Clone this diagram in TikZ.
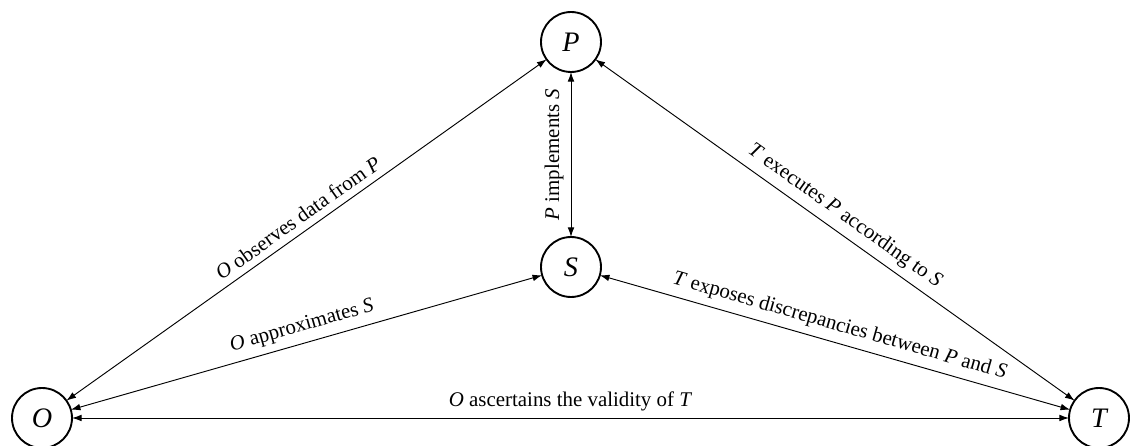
\documentclass[tikz,border=0pt]{standalone}
\usepackage{fontspec}
\setmainfont{Liberation Serif}
\usetikzlibrary{arrows.meta}
\begin{document}
\begin{tikzpicture}[x=0.4785pt,y=-0.4785pt,
  agent/.style={circle,draw,line width=0.9pt,minimum size=28.7pt,inner sep=0pt,outer sep=0pt,font=\fontsize{13.5}{16}\selectfont\itshape},
  rel/.style={{Latex[length=4.6pt,width=3.2pt]}-{Latex[length=4.6pt,width=3.2pt]},line width=0.45pt},
  lab/.style={midway,sloped,above,font=\fontsize{10}{12}\selectfont}]
\useasboundingbox (0,0) rectangle (1130,446);
\node[agent] (P) at (571,42) {P};
\node[agent] (S) at (571,267) {S};
\node[agent] (O) at (42,418) {O};
\node[agent] (T) at (1099,418) {T};
\draw[rel] (S) -- (P) node[lab] {\textit{P} implements \textit{S}};
\draw[rel] (O) -- (P) node[lab] {\textit{O} observes data from \textit{P}};
\draw[rel] (O) -- (S) node[lab] {\textit{O} approximates \textit{S}};
\draw[rel] (S) -- (T) node[lab] {\textit{T} exposes discrepancies between \textit{P} and \textit{S}};
\draw[rel] (P) -- (T) node[lab] {\textit{T} executes \textit{P} according to \textit{S}};
\draw[rel] (O) -- (T) node[lab] {\textit{O} ascertains the validity of \textit{T}};
\end{tikzpicture}
\end{document}
